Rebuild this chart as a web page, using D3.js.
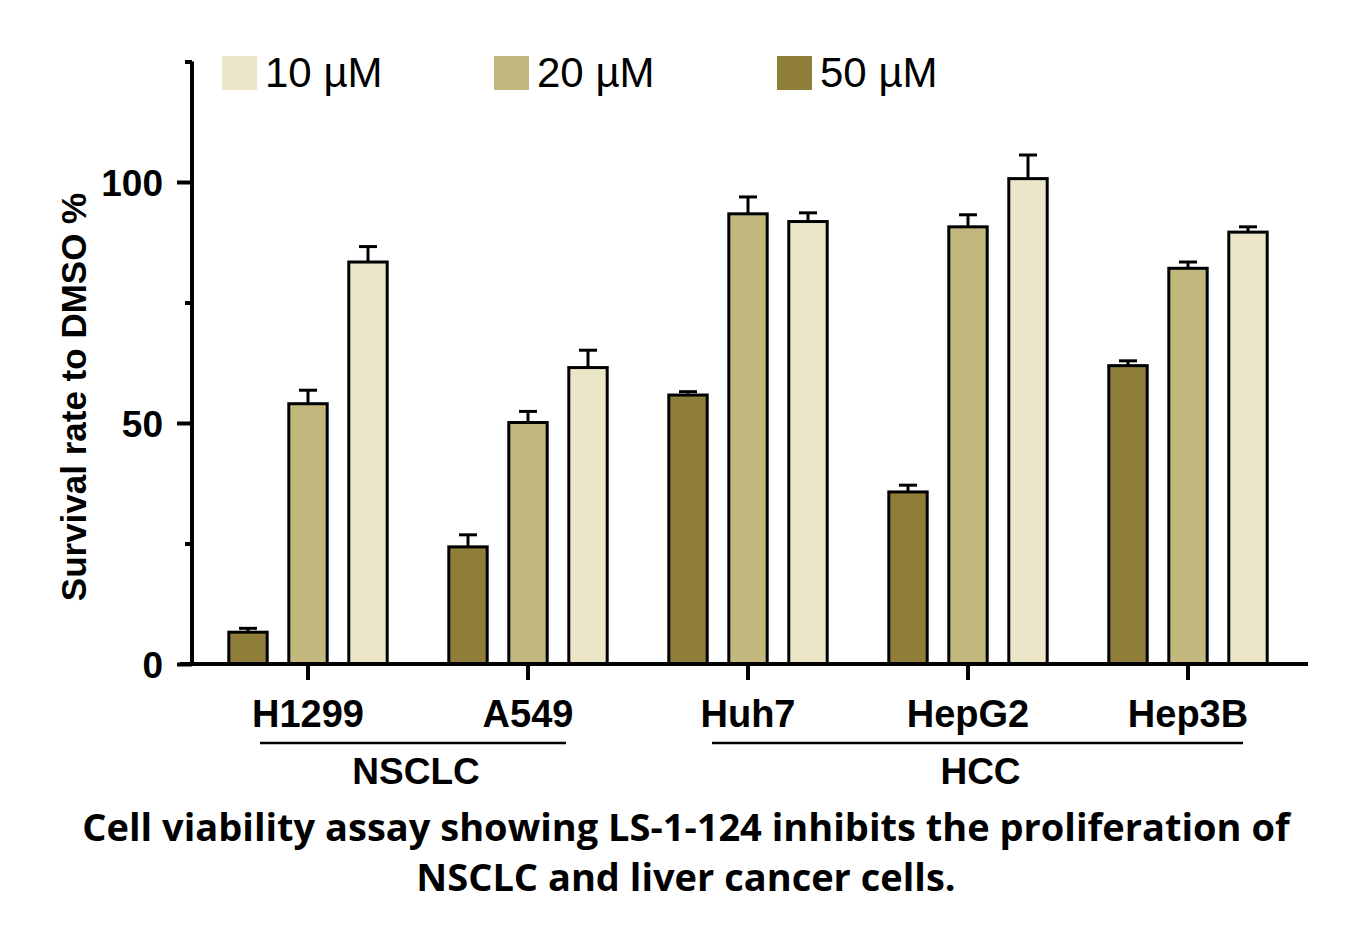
<!DOCTYPE html>
<html><head><meta charset="utf-8">
<script src="https://cdn.jsdelivr.net/npm/d3@7"></script>
<style>body{margin:0;background:#fff}svg{display:block}</style>
</head><body>
<svg id="c" width="1358" height="929"></svg>
<script>
const categories = ["H1299","A549","Huh7","HepG2","Hep3B"];
const seriesNames = ["50 µM","20 µM","10 µM"];
const legendOrder = ["10 µM","20 µM","50 µM"];
const values50 = [6.6, 24.3, 55.8, 35.7, 61.9];
const errors50 = [0.8, 2.5, 0.7, 1.4, 1.0];
const values20 = [54.0, 50.1, 93.4, 90.7, 82.1];
const errors20 = [2.8, 2.3, 3.5, 2.5, 1.3];
const values10 = [83.4, 61.5, 91.8, 100.7, 89.6];
const errors10 = [3.2, 3.6, 1.8, 4.9, 1.1];
const yTicks = [0,25,50,75,100,125];
const yTickLabels = ["0","","50","","100",""];
const groups = [{name:"NSCLC", from:"H1299", to:"A549"},{name:"HCC", from:"Huh7", to:"Hep3B"}];
const caption = ["Cell viability assay showing LS-1-124 inhibits the proliferation of","NSCLC and liver cancer cells."];

const colors = {"50 µM":"#8f7e3a","20 µM":"#c2b77c","10 µM":"#ece6c8"};
const seriesVals = {"50 µM":values50,"20 µM":values20,"10 µM":values10};
const seriesErr = {"50 µM":errors50,"20 µM":errors20,"10 µM":errors10};
const bracketPad = {"NSCLC":[-48,38],"HCC":[-36,55]};

const svg = d3.select("#c");
const y = d3.scaleLinear().domain([0,125]).range([664,61.5]);
const x = d3.scaleBand().domain(categories).range([198,1298]);
const xs = d3.scaleBand().domain(seriesNames).range([-90,90]).paddingInner(0.36).paddingOuter(0.18);

const data = [];
seriesNames.forEach(s=>categories.forEach((c,i)=>data.push({s,c,v:seriesVals[s][i],e:seriesErr[s][i]})));

const cx = d => x(d.c)+x.bandwidth()/2 + xs(d.s) + xs.bandwidth()/2;
// error bars
const eb = svg.append("g").attr("stroke","#000").attr("stroke-width",3);
eb.selectAll("line.v").data(data).join("line").attr("class","v")
  .attr("x1",cx).attr("x2",cx).attr("y1",d=>y(d.v)).attr("y2",d=>y(d.v+d.e));
eb.selectAll("line.h").data(data).join("line").attr("class","h")
  .attr("x1",d=>cx(d)-9).attr("x2",d=>cx(d)+9).attr("y1",d=>y(d.v+d.e)).attr("y2",d=>y(d.v+d.e));
// bars
svg.append("g").selectAll("rect").data(data).join("rect")
  .attr("x",d=>x(d.c)+x.bandwidth()/2+xs(d.s)).attr("width",xs.bandwidth())
  .attr("y",d=>y(d.v)).attr("height",d=>y(0)-y(d.v))
  .attr("fill",d=>colors[d.s]).attr("stroke","#000").attr("stroke-width",3);

const F = "Liberation Sans, Arial, sans-serif";
// y axis
const ya = svg.append("g").attr("transform","translate(192,0)")
  .call(d3.axisLeft(y).tickValues(yTicks).tickFormat((d,i)=>yTickLabels[i]).tickSize(15).tickPadding(14));
ya.select(".domain").attr("stroke-width",4).attr("d","M0,"+y(125)+"V"+y(0));
ya.selectAll(".tick line").attr("stroke-width",4).attr("x2",(d,i)=>yTickLabels[i]?-15:-7);
ya.selectAll(".tick text").attr("font-family",F).attr("font-weight","bold").attr("font-size",37).attr("fill","#000").attr("dy","0.36em");

// x axis
const xa = svg.append("g").attr("transform","translate(0,664)")
  .call(d3.axisBottom(x).tickSize(16).tickPadding(20));
xa.select(".domain").attr("stroke-width",4).attr("d","M180,0H1308");
xa.selectAll(".tick line").attr("stroke-width",4);
xa.selectAll(".tick text").attr("font-family",F).attr("font-weight","bold").attr("font-size",38).attr("fill","#000");

// group brackets
groups.forEach(g=>{
  const p = bracketPad[g.name];
  const x1 = x(g.from)+x.bandwidth()/2+p[0], x2 = x(g.to)+x.bandwidth()/2+p[1];
  svg.append("line").attr("x1",x1).attr("x2",x2).attr("y1",743).attr("y2",743).attr("stroke","#000").attr("stroke-width",2.5);
  svg.append("text").attr("x",(x1+x2)/2+3).attr("y",784).attr("text-anchor","middle")
    .attr("font-family",F).attr("font-weight","bold").attr("font-size",37).text(g.name);
});

// y label
svg.append("text").attr("transform","translate(86,397) rotate(-90)").attr("text-anchor","middle")
  .attr("font-family",F).attr("font-weight","bold").attr("font-size",35).text("Survival rate to DMSO %");

// legend
const lx = d3.scaleOrdinal().domain(legendOrder).range([222,494,777]);
const lg = svg.append("g").selectAll("g").data(legendOrder).join("g").attr("transform",d=>`translate(${lx(d)},56)`);
lg.append("rect").attr("width",35).attr("height",34).attr("fill",d=>colors[d]);
lg.append("text").attr("x",43).attr("y",31).attr("font-family",F).attr("font-size",42).text(d=>d);

// caption
svg.append("g").selectAll("text").data(caption).join("text")
  .attr("x",686).attr("y",(d,i)=>841+i*50).attr("text-anchor","middle")
  .attr("font-family","Open Sans, sans-serif").attr("font-weight","bold").attr("font-size",38).text(d=>d);
</script>
</body></html>
